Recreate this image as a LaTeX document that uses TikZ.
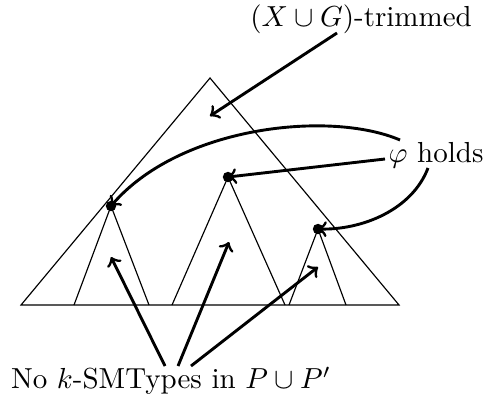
\documentclass[tikz,border=0pt]{standalone}
\usepackage{amsmath}
\begin{document}
\begin{tikzpicture}[x=0.345pt,y=-0.345pt,
  tri/.style={line width=0.4pt},
  arr/.style={line width=1pt,->},
  dotnode/.style={circle,fill=black,inner sep=0pt,minimum size=3.6pt},
  lbl/.style={inner sep=0pt}]
\useasboundingbox (0,0) rectangle (486,399);
% main triangle
\coordinate (Ta) at (210,78);
\coordinate (Tl) at (21,305);
\coordinate (Tr) at (399,305);
\draw[tri] (Tl) -- (Ta) -- (Tr) -- cycle;
% subtrees
\node[dotnode] (d1) at (111,206) {};
\node[dotnode] (d2) at (228,177) {};
\node[dotnode] (d3) at (318,229) {};
\coordinate (s1l) at (74,305);  \coordinate (s1r) at (149,305);
\coordinate (s2l) at (172,305); \coordinate (s2r) at (285,305);
\coordinate (s3l) at (289,305); \coordinate (s3r) at (346,305);
\draw[tri] (s1l) -- (d1.center) -- (s1r);
\draw[tri] (s2l) -- (d2.center) -- (s2r);
\draw[tri] (s3l) -- (d3.center) -- (s3r);
% labels
\node[lbl] (trim) at (361,19) {$(X\cup G)$-trimmed};
\node[lbl] (phi) at (436,155) {$\varphi$ holds};
\node[lbl] (nok) at (171,381) {No $k$-SMTypes in $P\cup P'$};
% arrow endpoints
\coordinate (trimS) at (337,33);
\coordinate (trimT) at (210,116);
\coordinate (p1) at (400,140);
\coordinate (p2) at (385,159);
\coordinate (p3) at (428,168);
\coordinate (n1) at (165,366);
\coordinate (n2) at (178,366);
\coordinate (n3) at (191,366);
\coordinate (t1) at (111,257);
\coordinate (t2) at (229,242);
\coordinate (t3) at (318,267);
% arrows
\draw[arr] (trimS) -- (trimT);
\draw[arr] (p1) .. controls (330,110) and (180,126) .. (d1.center);
\draw[arr] (p2) -- (d2.center);
\draw[arr] (p3) .. controls (412,210) and (362,230) .. (d3.center);
\draw[arr] (n1) -- (t1);
\draw[arr] (n2) -- (t2);
\draw[arr] (n3) -- (t3);
\end{tikzpicture}
\end{document}
